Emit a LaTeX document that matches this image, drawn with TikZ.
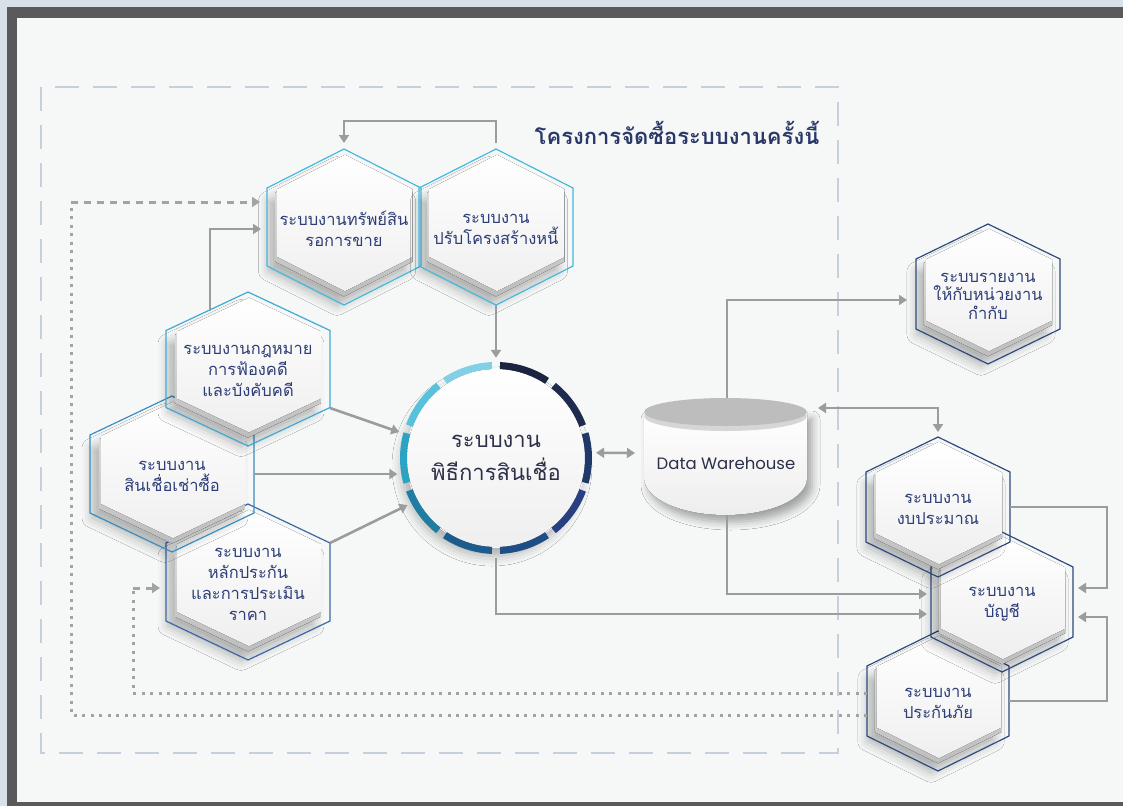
\documentclass[tikz,border=0pt]{standalone}
\usepackage{fontspec}
\setmainfont{Poppins}
\newfontfamily\thai[Script=Thai]{Loma}
\usetikzlibrary{calc,arrows.meta,shadows.blur}

\definecolor{pagebg}{HTML}{F6F8F8}
\definecolor{stripbg}{HTML}{D8E0EA}
\definecolor{framedark}{HTML}{5A5A5A}
\definecolor{projcol}{HTML}{C6CFDD}
\definecolor{conngray}{HTML}{9C9C9C}
\definecolor{dotgray}{HTML}{A3A3A3}
\definecolor{txtblue}{HTML}{2D3E78}
\definecolor{txtdark}{HTML}{2C3048}
\definecolor{titlecol}{HTML}{2B3868}
\definecolor{hcyan}{HTML}{45B8DD}
\definecolor{hcyanb}{HTML}{3EAAD4}
\definecolor{hmid}{HTML}{3A8DC0}
\definecolor{hblue}{HTML}{3A67A6}
\definecolor{hnavy}{HTML}{2F4A7E}
\definecolor{beveltop}{HTML}{E4E4E4}
\definecolor{bevelbot}{HTML}{BDBDBD}
\definecolor{facegray}{HTML}{EFEFEF}
\definecolor{dwtop}{HTML}{BDBDBD}
\definecolor{dwrim}{HTML}{D6D6D6}
\definecolor{ra}{HTML}{1C2540}
\definecolor{rb}{HTML}{1F2B4E}
\definecolor{rc}{HTML}{1F3A68}
\definecolor{rd}{HTML}{283F82}
\definecolor{re}{HTML}{1F4E87}
\definecolor{rf}{HTML}{1B5C8D}
\definecolor{rg}{HTML}{1F7DA2}
\definecolor{rh}{HTML}{2BA3C2}
\definecolor{ri}{HTML}{58C2DC}
\definecolor{rj}{HTML}{82D0E5}

\tikzset{
  tipa/.tip={Triangle[length=8pt,width=10pt]},
  conn/.style={draw=conngray,line width=2.6pt,-tipa},
  conntwo/.style={draw=conngray,line width=2.6pt,tipa-tipa},
  dotline/.style={draw=dotgray,line width=3pt,dash pattern=on 3pt off 5.5pt},
  dashline/.style={draw=dotgray,line width=3pt,dash pattern=on 7pt off 6pt,-tipa},
  projdash/.style={draw=projcol,line width=2.6pt,dash pattern=on 24pt off 14pt},
  hexshadow/.style={blur shadow={shadow xshift=-7pt,shadow yshift=-9pt,shadow blur radius=10pt,shadow opacity=28}},
  hextext/.style={font=\thai\fontsize{16.5}{21}\selectfont,text=txtblue,align=center,inner sep=0pt},
  hextextr/.style={font=\thai\fontsize{16.5}{18.5}\selectfont,text=txtblue,align=center,inner sep=0pt},
  titletext/.style={font=\thai\bfseries\fontsize{22}{24}\selectfont,text=titlecol,inner sep=0pt},
  circtext/.style={circle,minimum size=200pt,inner sep=0pt,font=\thai\fontsize{22}{33}\selectfont,text=txtdark,align=center},
  dwtext/.style={font=\fontsize{16.5}{18}\selectfont,text=txtdark,inner sep=0pt},
}

\newcommand\hexp[2]{(0,-#2) -- (#1,-#2/2) -- (#1,#2/2) -- (0,#2) -- (-#1,#2/2) -- (-#1,-#2/2) -- cycle}

% name, cx, cy, w, R, outline colour, text style, text
\newcommand\hexnode[8]{%
  \begin{scope}[shift={(#2,#3)}]
    \fill[bevelbot,hexshadow] \hexp{0.89*#4}{0.89*#5};
    \draw[#6,line width=1.2pt] \hexp{#4}{#5};
    \fill[top color=beveltop,bottom color=bevelbot] \hexp{0.89*#4}{0.89*#5};
    \fill[top color=white,bottom color=facegray,shift={(1,-4)}] \hexp{0.875*#4}{0.875*#5};
    \node[#7] (#1) at (0,2) {#8};
    \coordinate (#1-t) at (0,-#5);
    \coordinate (#1-b) at (0,#5);
    \coordinate (#1-l) at (-#4,0);
    \coordinate (#1-r) at (#4,0);
  \end{scope}}

\begin{document}
\begin{tikzpicture}[x=1pt,y=-1pt]
  \useasboundingbox (0,0) rectangle (1123,806);
  \fill[stripbg] (0,0) rectangle (1123,806);
  \fill[framedark] (7,7) rectangle (1123,806);
  \fill[pagebg] (17,18) rectangle (1123,802);

  % project scope
  \draw[projdash] (41,87) rectangle (838,753);
  \node[titletext] (ttl) at (677,133) {โครงการจัดซื้อระบบงานครั้งนี้};

  % left group (lower first)
  \hexnode{h5}{248}{582}{82}{78}{hblue}{hextext}{ระบบงาน\\หลักประกัน\\และการประเมิน\\ราคา}
  \hexnode{h4}{172}{474}{82}{78}{hmid}{hextext}{ระบบงาน\\สินเชื่อเช่าซื้อ}
  \hexnode{h3}{248}{369}{82}{77}{hcyanb}{hextext}{ระบบงานกฎหมาย\\การฟ้องคดี\\และบังคับคดี}
  \hexnode{h1}{344}{227}{77}{78}{hcyan}{hextext}{ระบบงานทรัพย์สิน\\รอการขาย}
  \hexnode{h2}{496}{227}{77}{78}{hcyan}{hextext}{ระบบงาน\\ปรับโครงสร้างหนี้}

  % right group
  \hexnode{h6}{988}{294}{72}{70}{hnavy}{hextextr}{ระบบรายงาน\\ให้กับหน่วยงาน\\กำกับ}
  \hexnode{h9}{938}{701}{71}{70}{hnavy}{hextext}{ระบบงาน\\ประกันภัย}
  \hexnode{h8}{1002}{602}{71}{70}{hnavy}{hextext}{ระบบงาน\\บัญชี}
  \hexnode{h7}{938}{507}{72}{70}{hnavy}{hextext}{ระบบงาน\\งบประมาณ}

  % central circle
  \fill[white,blur shadow={shadow xshift=-4pt,shadow yshift=-8pt,shadow blur radius=10pt,shadow opacity=30}] (496,458) circle[radius=90];
  \fill[top color=white,bottom color=facegray] (496,458) circle[radius=89];
  \node[circtext] (circ) at (496,458) {ระบบงาน\\พิธีการสินเชื่อ};
  \foreach \a/\c in {72/ra,36/rb,0/rc,-36/rd,-72/re,-108/rf,-144/rg,-180/rh,144/ri,108/rj}{
    \draw[draw=\c,line width=7pt] ($(circ.center)+({-(\a-15.5)}:92.5)$) arc[start angle={-(\a-15.5)},end angle={-(\a+15.5)},radius=92.5];
  }

  % data warehouse
  \fill[white!96!black,blur shadow={shadow xshift=5pt,shadow yshift=-7pt,shadow blur radius=8pt,shadow opacity=35}]
    (644,412) -- (644,478) arc[start angle=180,end angle=0,x radius=81.5,y radius=37] -- (807,412) -- cycle;
  \fill[top color=white,bottom color=white!93!black]
    (644,412) -- (644,478) arc[start angle=180,end angle=0,x radius=81.5,y radius=37] -- (807,412) -- cycle;
  \fill[dwrim] (725.5,416) ellipse[x radius=81.5,y radius=15];
  \fill[dwtop] (725.5,412) ellipse[x radius=81.5,y radius=14];
  \node[dwtext] (dw) at (726,463) {Data Warehouse};
  \coordinate (dw-top) at (727,398);
  \coordinate (dw-bot) at (727,515);
  \coordinate (dw-l) at (644,453);
  \coordinate (dw-r) at (807,411);

  % connectors
  \draw[conn] ($(h2-t)+(0,-6)$) |- ($(h1-t)+(0,-28)$) -- ($(h1-t)+(0,-6)$);
  \draw[conn] (h2-b) -- (circ.90);
  \draw[conn] ($(h3)+(-38,-60)$) |- ($(h1-l)+(-6,2)$);
  \draw[conn] ($(h3-r)+(0,39)$) -- (circ.165);
  \draw[conn] (h4-r) -- (circ.190 |- h4-r);
  \draw[conn] ($(h5-r)+(0,-39)$) -- (circ.208);
  \draw[conntwo] (circ.3) -- ($(dw-l)+(-9,0)$);
  \draw[conn] (dw-top) |- ($(h6-l)+(-9,6)$);
  \draw[conntwo] ($(dw-r)+(11,-3)$) -| ($(h7-t)+(0,-5)$);
  \draw[conn] (dw-bot) |- ($(h8-l)+(-4,-8)$);
  \draw[conn] (circ.270) |- ($(h8-l)+(-4,12)$);
  \draw[conn] (h7-r) -- ++(97,0) |- ($(h8-r)+(5,-14)$);
  \draw[conn] (h9-r) -- ++(98,0) |- ($(h8-r)+(5,15)$);

  % dotted feedback lines
  \draw[dotline] ($(h9-l)+(0,-8)$) -| ($(h5-l)+(-33,6)$);
  \draw[dashline] ($(h5-l)+(-33,6)$) -- ($(h5-l)+(-6,6)$);
  \draw[dotline] ($(h9-l)+(0,14)$) -| ($(h1-l)+(-196,-25)$);
  \draw[dashline] ($(h1-l)+(-196,-25)$) -- ($(h1-l)+(-7,-25)$);
\end{tikzpicture}
\end{document}
